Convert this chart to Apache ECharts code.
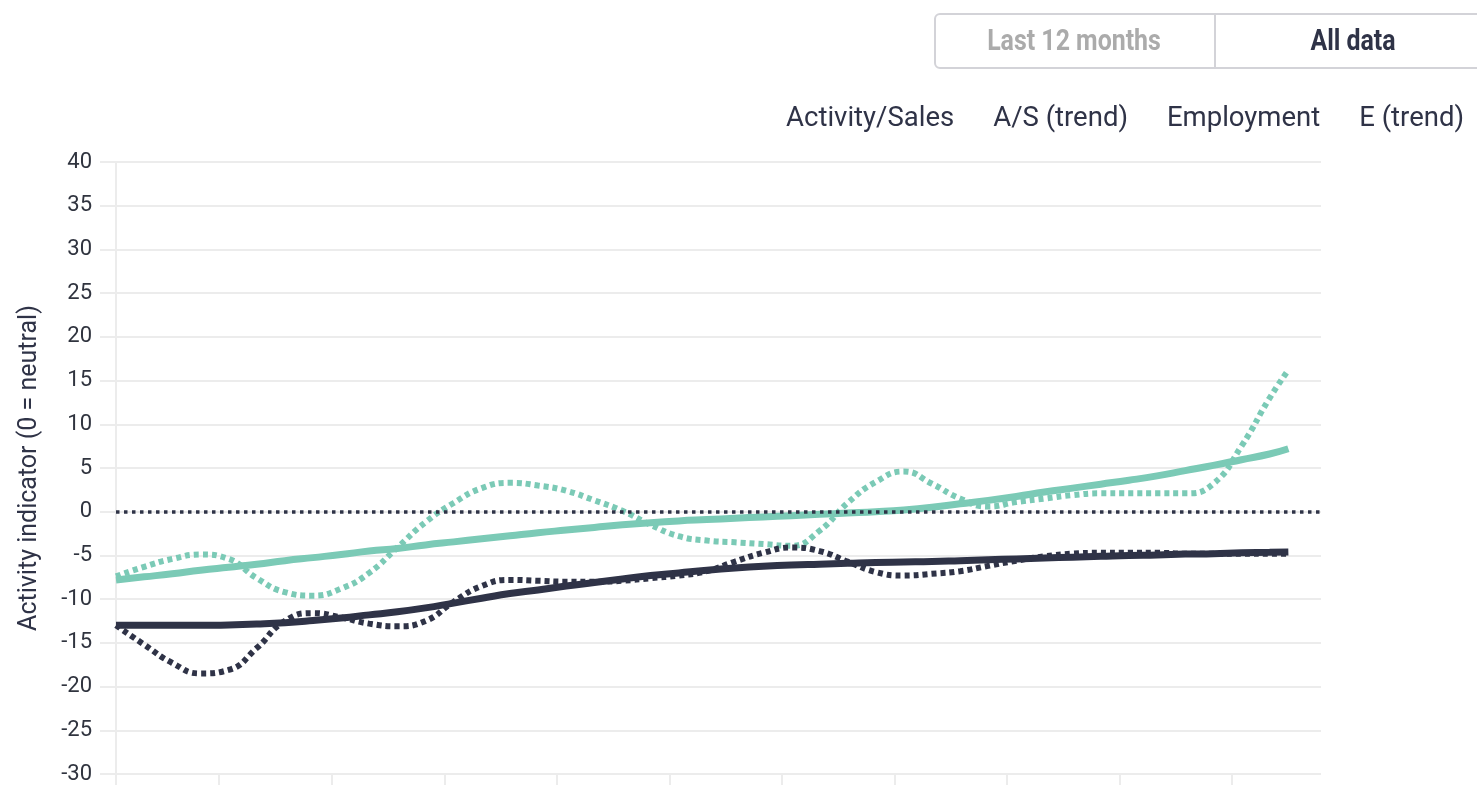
<!DOCTYPE html>
<html>
<head>
<meta charset="utf-8">
<script src="https://cdn.jsdelivr.net/npm/echarts@6/dist/echarts.min.js"></script>
<style>
  html, body { margin: 0; padding: 0; background: #fff; }
  #chart { width: 1477px; height: 789px; }
</style>
</head>
<body>
<div id="chart"></div>
<script>
// monthly survey (plus last month)
var dates = [
  '2014-02', '2014-05', '2014-08', '2014-11', '2015-02', '2015-05', '2015-08', '2015-11',
  '2016-02', '2016-05', '2016-08', '2016-11', '2017-02', '2017-05', '2017-08', '2017-11',
  '2018-02', '2018-05', '2018-08', '2018-11', '2019-02', '2019-05', '2019-08', '2019-11',
  '2020-02', '2020-05', '2020-08', '2020-11', '2021-02', '2021-05', '2021-08', '2021-11',
  '2022-02', '2022-05', '2022-08', '2022-11', '2023-02', '2023-05', '2023-08', '2023-11',
  '2024-02', '2024-05', '2024-07'
]
var activity = [
  -7.4, -6.3, -5.4, -4.9, -5.4, -7.6, -9.2, -9.6,
  -8.8, -7.0, -4.1, -1.2, 1.0, 2.7, 3.3, 3.0,
  2.4, 1.3, 0.1, -1.5, -2.8, -3.3, -3.5, -3.7,
  -3.9, -2.2, 1.0, 3.4, 4.6, 3.2, 1.5, 0.6,
  1.1, 1.5, 1.9, 2.1, 2.1, 2.1, 2.1, 3.2,
  7.5, 13.0, 16.2
]
var activityTrend = [
  -7.8, -7.45, -7.1, -6.7, -6.35, -6.0, -5.6, -5.25,
  -4.9, -4.5, -4.2, -3.8, -3.45, -3.1, -2.75, -2.4,
  -2.1, -1.8, -1.5, -1.25, -1.05, -0.9, -0.75, -0.6,
  -0.45, -0.3, -0.15, 0.0, 0.2, 0.5, 0.9, 1.3,
  1.75, 2.25, 2.7, 3.15, 3.6, 4.1, 4.7, 5.3,
  5.95, 6.6, 7.2
]
var employment = [
  -13.0, -15.2, -17.3, -18.5, -18.1, -15.6, -12.5, -11.6,
  -12.1, -12.8, -13.1, -12.5, -10.3, -8.5, -7.8, -7.9,
  -8.0, -8.0, -7.9, -7.6, -7.3, -6.8, -5.7, -4.7,
  -4.1, -4.5, -5.7, -6.9, -7.3, -7.1, -6.8, -6.2,
  -5.6, -5.1, -4.8, -4.7, -4.7, -4.7, -4.8, -4.8,
  -4.8, -4.8, -4.8
]
var employmentTrend = [
  -13.0, -13.0, -13.0, -13.0, -12.95, -12.85, -12.7, -12.45,
  -12.15, -11.8, -11.45, -11.0, -10.45, -9.9, -9.35, -8.95,
  -8.5, -8.1, -7.7, -7.3, -7.0, -6.7, -6.45, -6.25,
  -6.1, -6.0, -5.9, -5.8, -5.75, -5.7, -5.6, -5.5,
  -5.4, -5.3, -5.2, -5.1, -5.0, -4.95, -4.85, -4.8,
  -4.7, -4.65, -4.6
]
var yearTicks = [2015, 2016, 2017, 2018, 2019, 2020, 2021, 2022, 2023, 2024]

var teal = '#7bcab6'
var navy = '#2f3347'
var grey = '#ececec'

function toYear(s) {
  return +s.slice(0, 4) + (+s.slice(5, 7) - 1) / 12
}
function pairs(values) {
  return values.map(function (v, i) { return [toYear(dates[i]), v] })
}

var xMin = toYear(dates[0])
var xMax = 2024.79

var myChart = echarts.init(document.getElementById('chart'))
myChart.setOption({
  animation: false,
  textStyle: { fontFamily: 'Roboto' },
  graphic: [
    { type: 'rect', shape: { x: 935, y: 14, width: 280, height: 54, r: [5, 0, 0, 5] },
      style: { fill: '#fff', stroke: '#d3d3d8', lineWidth: 2 } },
    { type: 'rect', shape: { x: 1215, y: 14, width: 290, height: 54 },
      style: { fill: '#fff', stroke: '#d3d3d8', lineWidth: 2 } },
    { type: 'text', x: 1074, y: 42, scaleX: 0.83,
      style: { text: 'Last 12 months', font: 'bold 30px Roboto', fill: '#ababab', align: 'center', verticalAlign: 'middle' } },
    { type: 'text', x: 1353, y: 42, scaleX: 0.83,
      style: { text: 'All data', font: 'bold 30px Roboto', fill: navy, align: 'center', verticalAlign: 'middle' } }
  ],
  legend: {
    right: 8,
    top: 100,
    icon: 'none',
    itemWidth: 0,
    itemHeight: 28,
    itemGap: 34,
    textStyle: { fontSize: 27.5, color: navy },
    data: ['Activity/Sales', 'A/S (trend)', 'Employment', 'E (trend)']
  },
  grid: { left: 116, right: 156, top: 162, bottom: 15 },
  xAxis: {
    type: 'value',
    min: xMin,
    max: xMax,
    axisLine: { show: false, onZero: false },
    splitLine: { show: false },
    axisTick: {
      show: true,
      length: 11,
      customValues: [xMin].concat(yearTicks),
      lineStyle: { color: grey, width: 2 }
    },
    axisLabel: { show: false }
  },
  yAxis: {
    type: 'value',
    min: -30,
    max: 40,
    interval: 5,
    name: 'Activity indicator (0 = neutral)',
    nameLocation: 'middle',
    nameGap: 74,
    nameTextStyle: { fontSize: 25, color: navy },
    axisLine: { show: true, lineStyle: { color: grey, width: 2 } },
    axisTick: { show: true, length: 16, lineStyle: { color: grey, width: 2 } },
    axisLabel: { fontSize: 22, color: '#30343f', margin: 24 },
    splitLine: { lineStyle: { color: grey, width: 2 } }
  },
  series: [{
    name: 'Activity/Sales',
    type: 'line',
    smooth: true,
    showSymbol: false,
    data: pairs(activity),
    itemStyle: { color: teal },
    lineStyle: { color: teal, width: 6, type: [5, 4] },
    markLine: {
      silent: true,
      symbol: 'none',
      label: { show: false },
      lineStyle: { color: navy, width: 3.5, type: [3.5, 4.5] },
      data: [{ yAxis: 0 }]
    }
  }, {
    name: 'A/S (trend)',
    type: 'line',
    smooth: true,
    showSymbol: false,
    data: pairs(activityTrend),
    itemStyle: { color: teal },
    lineStyle: { color: teal, width: 7 }
  }, {
    name: 'Employment',
    type: 'line',
    smooth: true,
    showSymbol: false,
    data: pairs(employment),
    itemStyle: { color: navy },
    lineStyle: { color: navy, width: 6, type: [5, 4] }
  }, {
    name: 'E (trend)',
    type: 'line',
    smooth: true,
    showSymbol: false,
    data: pairs(employmentTrend),
    itemStyle: { color: navy },
    lineStyle: { color: navy, width: 7 }
  }]
})
</script>
</body>
</html>
